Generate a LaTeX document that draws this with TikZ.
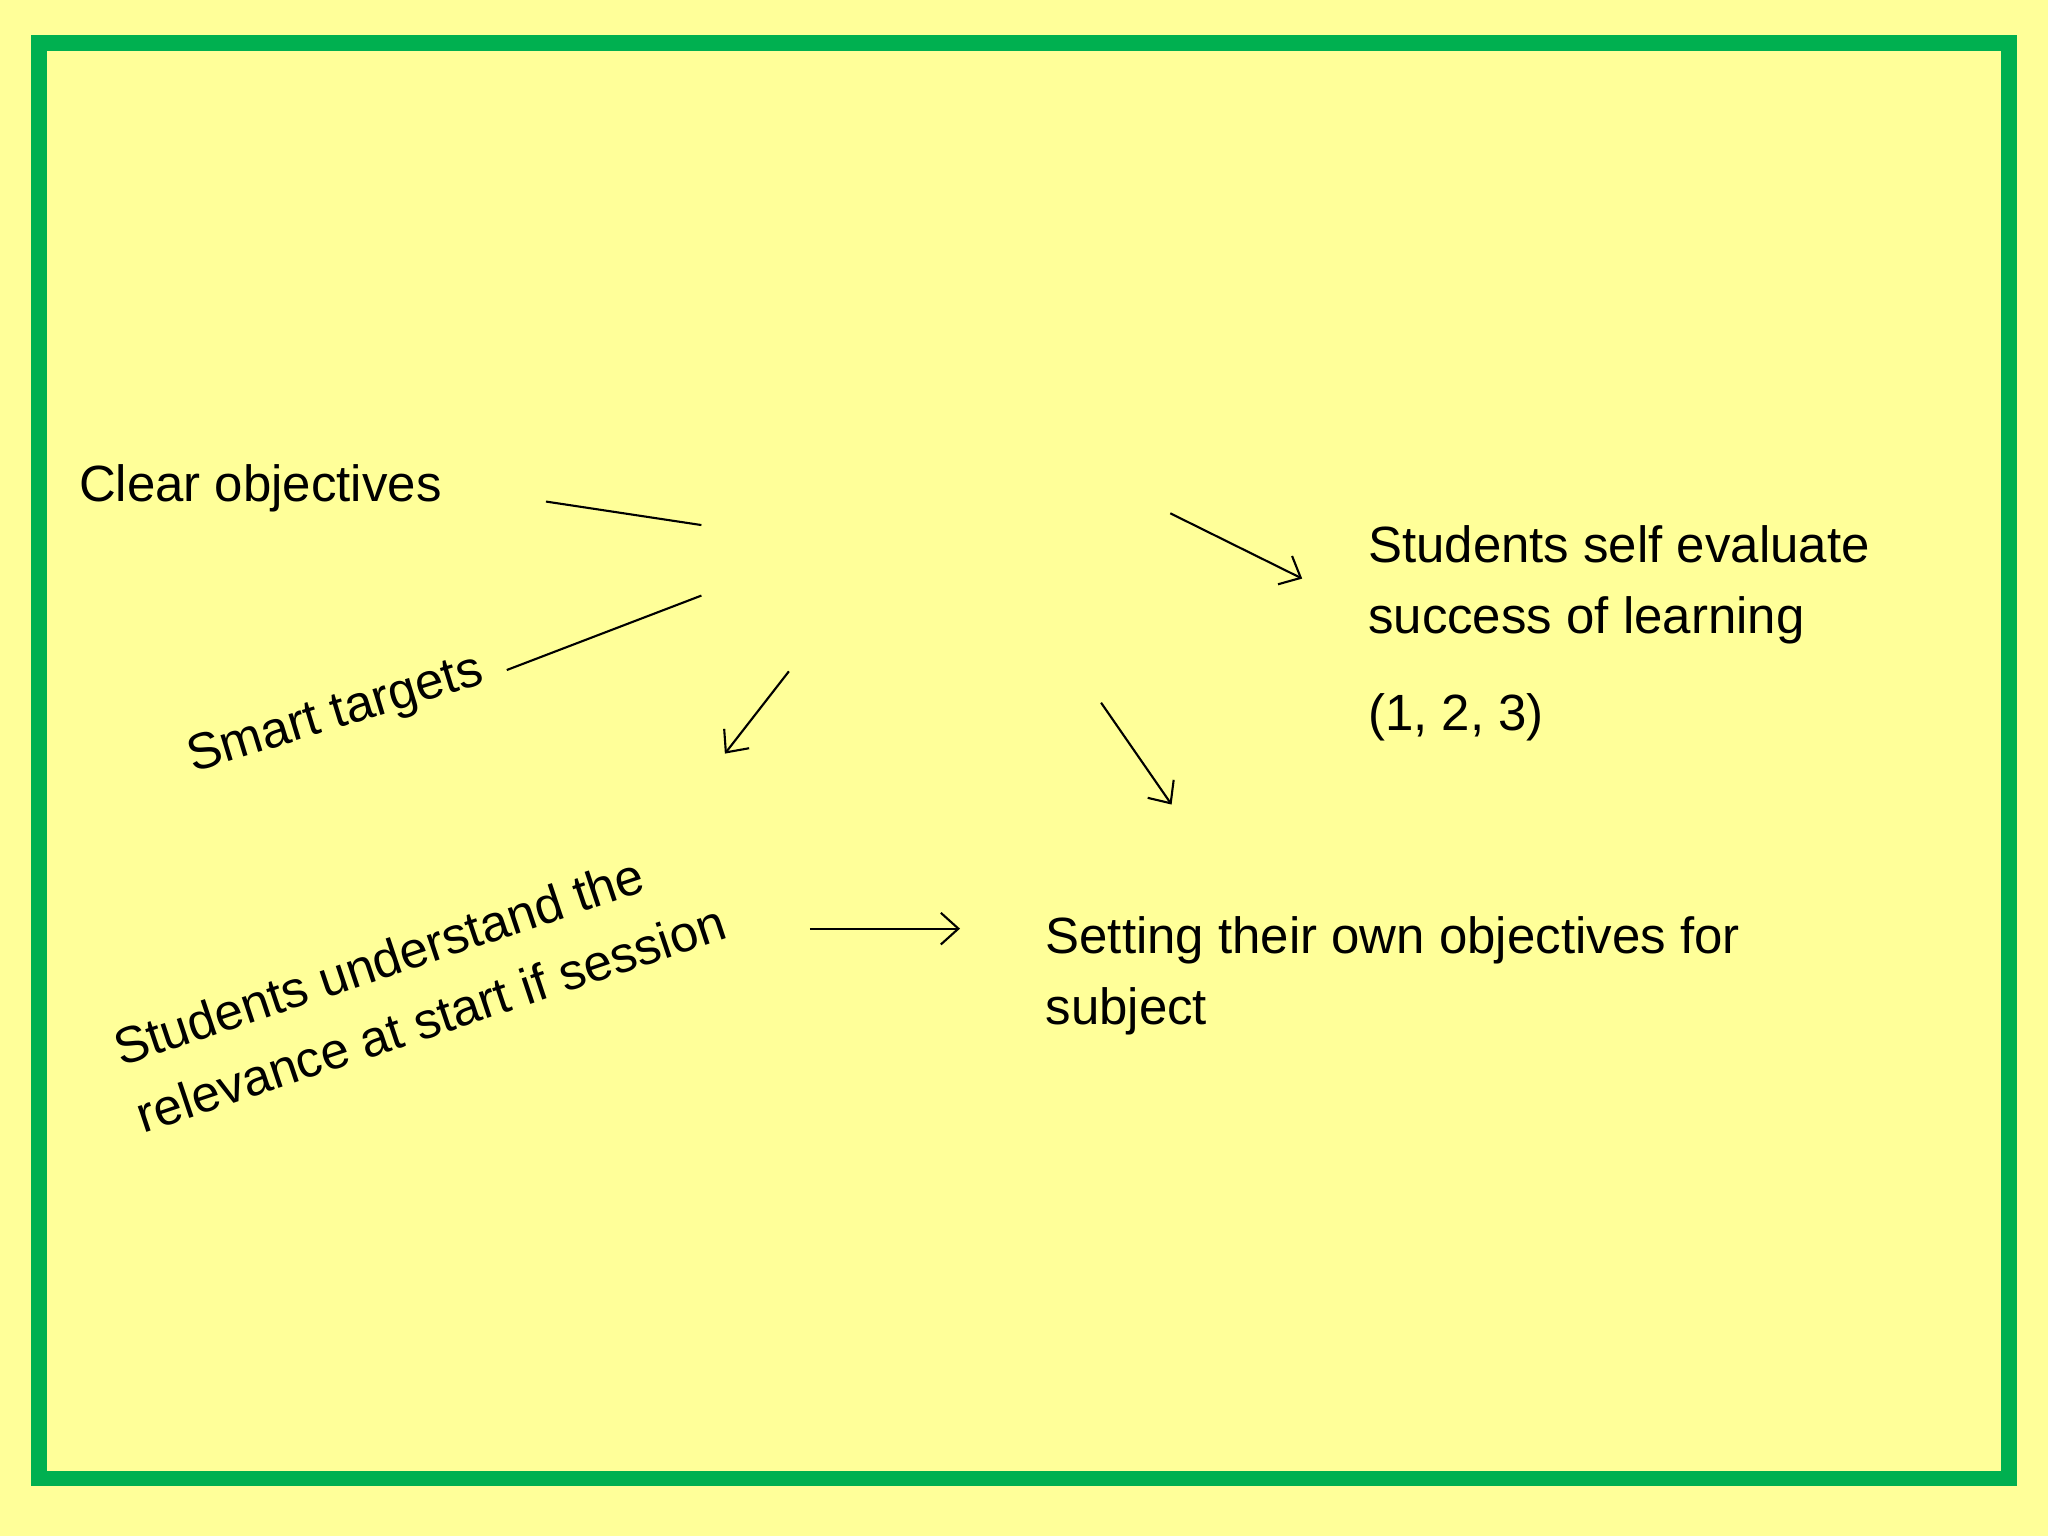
\documentclass[tikz,border=0pt]{standalone}
\usepackage{fontspec}
\setmainfont{Liberation Sans}
\usetikzlibrary{arrows.meta}
\begin{document}
\begin{tikzpicture}[x=0.013061cm,y=-0.013061cm,
  lbl/.style={font=\fontsize{14.5}{20.2}\selectfont,inner sep=0pt,align=left},
  con/.style={line width=0.6pt,black},
  arr/.style={con,-{Straight Barb[length=5pt,width=9pt]}}]
\fill[fill={rgb,255:red,255;green,255;blue,153}] (0,0) rectangle (1568,1176);
\useasboundingbox (0,0) rectangle (1568,1176);
\draw[line width=12*0.013061cm,draw={rgb,255:red,0;green,176;blue,80}] (30,33) rectangle (1538,1132);
\node[lbl,anchor=west] (clear) at (60,374) {Clear objectives};
\node[lbl,rotate=17] (smart) at (257,548) {Smart targets};
\node[lbl,rotate=18.5,align=left] (under) at (321,754) {Students understand the\\relevance at start if session};
\node[lbl,anchor=north west] (self) at (1047,402) {Students self evaluate\\success of learning};
\node[lbl,anchor=west] (num) at (1047,549) {(1, 2, 3)};
\node[lbl,anchor=north west] (set) at (800,701) {Setting their own objectives for\\subject};
\coordinate (a1) at (418,384); \coordinate (a2) at (537,402);
\coordinate (b1) at (388,513); \coordinate (b2) at (537,456);
\coordinate (c1) at (604,514); \coordinate (c2) at (555,577);
\coordinate (d1) at (896,393); \coordinate (d2) at (997,443);
\coordinate (e1) at (843,538); \coordinate (e2) at (897,616);
\coordinate (f1) at (620,711); \coordinate (f2) at (735,711);
\draw[con] (a1) -- (a2);
\draw[con] (b1) -- (b2);
\draw[arr] (c1) -- (c2);
\draw[arr] (d1) -- (d2);
\draw[arr] (e1) -- (e2);
\draw[arr] (f1) -- (f2);
\end{tikzpicture}
\end{document}
